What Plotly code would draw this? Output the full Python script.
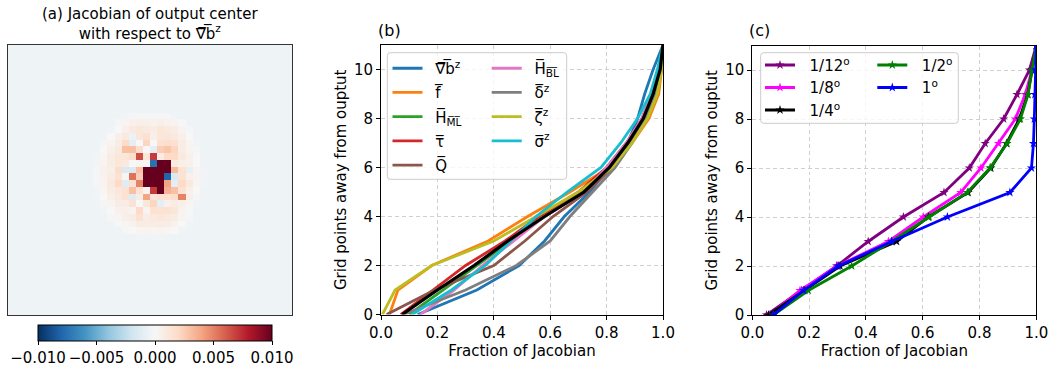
import numpy as np
import plotly.graph_objects as go

W, H = 1050, 366
FONT = "DejaVu Sans"


def px_x(p):
    return p / W


def px_y(p):
    return 1 - p / H


# ---------------- Panel (a): Jacobian field (values in units of 1e-3) ----------------
grid_n = 40
background_milli = -0.5
patch_row0 = 10
patch_col0 = 10
jacobian_patch_milli = [
    [-.5, -.5, -.5, -.5, -.5, -.5, -.3, -.2, -.2, -.2, -.2, -.2, -.2, -.3, -.5, -.5, -.5, -.5, -.5, -.5],
    [-.5, -.5, -.5, -.5, -.5, -.2, 0.2, 0.5, 0.6, 0.6, 0.4, 0.6, 0.4, 0.3, -.1, -.4, -.5, -.5, -.5, -.5],
    [-.5, -.5, -.5, -.5, -.3, 0.0, 0.5, 1.0, 1.2, 1.0, 0.8, 1.2, 1.0, 0.8, 0.3, -.2, -.5, -.5, -.5, -.5],
    [-.5, -.5, -.5, -.4, 0.0, 0.6, 1.0, -.6, 1.2, 1.6, 0.6, 1.2, 1.3, 1.0, 0.6, 0.0, -.4, -.5, -.5, -.5],
    [-.5, -.5, -.5, -.2, 0.3, 0.8, 2.0, -1.0, 0.0, 2.2, 0.0, 1.6, 1.8, 1.6, 0.8, 0.2, -.3, -.5, -.5, -.5],
    [-.5, -.5, -.4, 0.0, 0.6, 1.0, 3.0, 3.0, 1.8, 0.0, -1.0, 2.5, 2.8, 2.2, 0.8, 0.3, -.2, -.5, -.5, -.5],
    [-.5, -.5, -.3, 0.2, 0.8, 1.2, 1.2, 1.8, 6.5, 1.2, 7.0, 0.8, 2.0, 2.0, 1.0, 0.5, 0.0, -.4, -.5, -.5],
    [-.5, -.5, -.3, 0.3, 0.8, 1.2, 1.0, 0.0, 0.2, 0.2, -7.5, 12., 12., 1.0, 0.6, 0.5, 0.0, -.4, -.5, -.5],
    [-.5, -.5, -.2, 0.5, 0.6, 1.8, -1.5, -1.5, 3.0, 12., 12., 12., 12., 3.2, 1.5, -.8, 0.3, -.3, -.5, -.5],
    [-.5, -.5, -.2, 0.4, 0.8, 1.5, 0.2, 5.5, 2.5, 12., 12., 12., -8., -1.5, 1.5, 0.5, 0.3, -.3, -.5, -.5],
    [-.5, -.5, -.2, 0.3, 1.0, 2.0, -1.2, 1.5, 5.0, 12., 12., 12., 4.0, -1.0, 2.0, 1.0, 0.2, -.3, -.5, -.5],
    [-.5, -.5, -.3, 0.2, 0.8, 1.2, 1.5, 3.0, 1.5, 0.3, 7.0, 12., 3.5, 3.0, 1.5, 0.5, 0.0, -.4, -.5, -.5],
    [-.5, -.5, -.3, 0.0, 0.6, 1.0, 1.5, -1.2, 0.8, 4.0, 1.2, 1.5, 1.5, 1.8, 5.0, 0.6, -.2, -.5, -.5, -.5],
    [-.5, -.5, -.4, -.2, 0.3, 0.8, 0.8, 1.5, 0.0, 1.2, 2.2, -1.0, 0.5, 0.8, 0.6, 0.2, -.3, -.5, -.5, -.5],
    [-.5, -.5, -.5, -.3, 0.0, 0.5, 0.6, 0.3, 2.0, 0.3, 1.5, 1.5, 1.5, 1.2, 0.3, -.1, -.4, -.5, -.5, -.5],
    [-.5, -.5, -.5, -.4, -.2, 0.2, 0.6, 0.8, 1.5, 0.8, 1.0, 1.2, 1.0, 0.8, 0.3, -.2, -.5, -.5, -.5, -.5],
    [-.5, -.5, -.5, -.5, -.4, -.1, 0.2, 0.4, 0.8, 0.8, 0.8, 0.8, 0.8, 0.4, 0.0, -.3, -.5, -.5, -.5, -.5],
    [-.5, -.5, -.5, -.5, -.5, -.4, -.2, 0.0, 0.2, 0.3, 0.2, 0.3, 0.2, 0.0, -.3, -.5, -.5, -.5, -.5, -.5],
    [-.5, -.5, -.5, -.5, -.5, -.5, -.5, -.4, -.3, -.3, -.3, -.3, -.4, -.5, -.5, -.5, -.5, -.5, -.5, -.5],
    [-.5, -.5, -.5, -.5, -.5, -.5, -.5, -.5, -.5, -.5, -.5, -.5, -.5, -.5, -.5, -.5, -.5, -.5, -.5, -.5],
]
cbar_ticks = [-0.010, -0.005, 0.000, 0.005, 0.010]

# ---------------- Panel (b): fraction of Jacobian per input feature ----------------
grid_points = [0, 1, 2, 3, 4, 5, 6, 7, 8, 9, 10, 11]
feat_grad_b = [0.13, 0.34, 0.49, 0.58, 0.65, 0.74, 0.81, 0.875, 0.91, 0.935, 0.965, 1.0]
feat_f = [0.03, 0.06, 0.18, 0.38, 0.52, 0.67, 0.81, 0.89, 0.95, 0.985, 0.995, 1.0]
feat_h_ml = [0.10, 0.22, 0.34, 0.46, 0.58, 0.71, 0.81, 0.875, 0.93, 0.965, 0.99, 1.0]
feat_tau = [0.07, 0.185, 0.30, 0.44, 0.56, 0.70, 0.80, 0.87, 0.925, 0.96, 0.985, 1.0]
feat_q = [0.02, 0.19, 0.40, 0.51, 0.61, 0.73, 0.82, 0.885, 0.935, 0.97, 0.99, 1.0]
feat_h_bl = [0.14, 0.26, 0.36, 0.47, 0.58, 0.72, 0.80, 0.87, 0.925, 0.96, 0.985, 1.0]
feat_delta = [0.08, 0.30, 0.48, 0.60, 0.67, 0.75, 0.83, 0.89, 0.94, 0.97, 0.99, 1.0]
feat_zeta = [0.005, 0.05, 0.18, 0.40, 0.55, 0.70, 0.82, 0.89, 0.945, 0.98, 0.995, 1.0]
feat_sigma = [0.11, 0.25, 0.37, 0.46, 0.55, 0.66, 0.78, 0.85, 0.91, 0.955, 0.98, 1.0]
feat_all = [0.075, 0.20, 0.33, 0.45, 0.58, 0.72, 0.81, 0.875, 0.93, 0.965, 0.99, 1.0]

PAD_B = "\u00a0\u2009"
feat_labels = [
    "\u2207\u0305b\u0305<sup>z</sup>",
    "f\u0305",
    "H\u0305<sub>M\u0305L\u0305</sub>",
    "\u03c4\u0305",
    "Q\u0305",
    "H\u0305<sub>B\u0305L\u0305</sub>",
    "\u03b4\u0305<sup>z</sup>",
    "\u03b6\u0305<sup>z</sup>",
    "\u03c3\u0305<sup>z</sup>",
]
feat_values = [feat_grad_b, feat_f, feat_h_ml, feat_tau, feat_q,
               feat_h_bl, feat_delta, feat_zeta, feat_sigma]
feat_colors = ["#1f77b4", "#ff7f0e", "#2ca02c", "#d62728", "#8c564b",
               "#e377c2", "#7f7f7f", "#bcbd22", "#17becf"]

# ---------------- Panel (c): fraction of Jacobian per resolution ----------------
res_12 = [0.05, 0.174, 0.297, 0.408, 0.532, 0.675, 0.764, 0.82, 0.885, 0.932, 0.976, 1.0]
res_8 = [0.06, 0.168, 0.30, 0.479, 0.602, 0.734, 0.805, 0.867, 0.926, 0.961, 0.985, 1.0]
res_4 = [0.057, 0.185, 0.309, 0.508, 0.62, 0.76, 0.84, 0.895, 0.94, 0.97, 0.985, 1.0]
res_2 = [0.074, 0.197, 0.35, 0.49, 0.623, 0.757, 0.837, 0.897, 0.944, 0.971, 0.985, 1.0]
res_1 = [0.074, 0.18, 0.303, 0.491, 0.687, 0.907, 0.983, 0.99, 0.993, 0.995, 0.997, 1.0]
PAD_C = "\u00a0\u00a0"
res_labels = ["1/12<sup>o</sup>", "1/8<sup>o</sup>", "1/4<sup>o</sup>",
              "1/2<sup>o</sup>", "1<sup>o</sup>"]
res_values = [res_12, res_8, res_4, res_2, res_1]
res_colors = ["#800080", "#ff00ff", "#000000", "#008000", "#0000ff"]

x_ticks = [0.0, 0.2, 0.4, 0.6, 0.8, 1.0]
y_ticks = [0, 2, 4, 6, 8, 10]

# ---------------- Build figure ----------------
z = np.full((grid_n, grid_n), background_milli, dtype=float)
patch = np.array(jacobian_patch_milli)
z[patch_row0:patch_row0 + patch.shape[0], patch_col0:patch_col0 + patch.shape[1]] = patch
z = z * 1e-3

rdbu_r = [
    [0.0, "#053061"], [0.1, "#2166ac"], [0.2, "#4393c3"], [0.3, "#92c5de"],
    [0.4, "#d1e5f0"], [0.5, "#f7f7f7"], [0.6, "#fddbc7"], [0.7, "#f4a582"],
    [0.8, "#d6604d"], [0.9, "#b2182b"], [1.0, "#67001f"],
]

fig = go.Figure()

fig.add_trace(go.Heatmap(
    z=z, x=list(range(grid_n)), y=list(range(grid_n)),
    colorscale=rdbu_r, zmin=-0.01, zmax=0.01,
    xaxis="x", yaxis="y", showlegend=False,
    colorbar=dict(
        orientation="h", x=px_x(155), xanchor="center",
        y=px_y(325), yanchor="top",
        len=234, lenmode="pixels", thickness=16, thicknessmode="pixels",
        xpad=0, ypad=0, outlinewidth=1, outlinecolor="black",
        tickvals=cbar_ticks, tickformat=".3f", ticks="outside",
        ticklen=4, tickcolor="black", tickfont=dict(size=15, family=FONT, color="black"),
    ),
))

for i, (lab, vals, col) in enumerate(zip(feat_labels, feat_values, feat_colors)):
    fig.add_trace(go.Scatter(
        x=vals, y=grid_points, mode="lines", name=PAD_B + lab,
        line=dict(color=col, width=2.8),
        xaxis="x2", yaxis="y2",
        legend="legend" if i < 5 else "legend2",
        legendgroup="g%d" % i,
    ))
fig.add_trace(go.Scatter(
    x=feat_all, y=grid_points, mode="lines", name="all",
    line=dict(color="black", width=3.2), xaxis="x2", yaxis="y2", showlegend=False,
))

for i, (lab, vals, col) in enumerate(zip(res_labels, res_values, res_colors)):
    fig.add_trace(go.Scatter(
        x=vals, y=grid_points, mode="lines+markers", name=PAD_C + lab,
        line=dict(color=col, width=2.8),
        marker=dict(symbol="star", size=7, color=col),
        xaxis="x3", yaxis="y3",
        legend="legend3" if i < 3 else "legend4",
    ))

axis_common = dict(
    showline=True, linecolor="black", linewidth=1, mirror=True,
    ticks="outside", ticklen=4, tickwidth=1, tickcolor="black",
    showgrid=True, gridcolor="#d0d0d0", griddash="4px,3px", gridwidth=1,
    zeroline=False, tickfont=dict(size=15, family=FONT, color="black"),
)

x_common = dict(axis_common, range=[0, 1], tickvals=x_ticks, tickformat=".1f",
                title=dict(text="Fraction of Jacobian", font=dict(size=15, family=FONT), standoff=2))
y_common = dict(axis_common, range=[0, 11], tickvals=y_ticks,
                title=dict(text="Grid points away from ouptut", font=dict(size=15, family=FONT), standoff=3))

legend_common = dict(
    bgcolor="rgba(0,0,0,0)", borderwidth=0, xanchor="left", yanchor="top",
    font=dict(size=15, family=FONT, color="black"),
)


def rounded_box(x0, y0, x1, y1, r=3):
    rx, ry = r / W, r / H
    a, b, c, d = px_x(x0), px_x(x1), px_y(y0), px_y(y1)
    return (f"M{a+rx},{c} L{b-rx},{c} Q{b},{c} {b},{c-ry} L{b},{d+ry} Q{b},{d} {b-rx},{d} "
            f"L{a+rx},{d} Q{a},{d} {a},{d+ry} L{a},{c-ry} Q{a},{c} {a+rx},{c} Z")


fig.update_layout(
    width=W, height=H, autosize=False,
    margin=dict(l=0, r=0, t=0, b=0, autoexpand=False),
    paper_bgcolor="white", plot_bgcolor="white",
    font=dict(family=FONT, size=15, color="black"),
    xaxis=dict(domain=[px_x(8), px_x(292)], range=[-0.5, grid_n - 0.5],
               showline=True, linecolor="#333333", linewidth=1, mirror=True,
               showticklabels=False, ticks="", showgrid=False, zeroline=False),
    yaxis=dict(domain=[px_y(315), px_y(45)], range=[grid_n - 0.5, -0.5],
               showline=True, linecolor="#333333", linewidth=1, mirror=True,
               showticklabels=False, ticks="", showgrid=False, zeroline=False, anchor="x"),
    xaxis2=dict(x_common, domain=[px_x(381), px_x(663)], anchor="y2"),
    yaxis2=dict(y_common, domain=[px_y(314.5), px_y(45)], anchor="x2"),
    xaxis3=dict(x_common, domain=[px_x(752.3), px_x(1036.3)], anchor="y3"),
    yaxis3=dict(y_common, domain=[px_y(315), px_y(45.5)], anchor="x3"),
    legend=dict(legend_common, x=px_x(387.5), y=px_y(52), tracegroupgap=1.7),
    legend2=dict(legend_common, x=px_x(486.7), y=px_y(52), tracegroupgap=1.7),
    legend3=dict(legend_common, x=px_x(760), y=px_y(48.75)),
    legend4=dict(legend_common, x=px_x(872.3), y=px_y(48.75)),
    shapes=[
        dict(type="path", xref="paper", yref="paper", path=rounded_box(387.3, 52.7, 566.7, 179.3),
             fillcolor="rgba(255,255,255,0.8)", line=dict(color="#cccccc", width=1), layer="above"),
        dict(type="path", xref="paper", yref="paper", path=rounded_box(760.7, 52.7, 958.3, 123.3),
             fillcolor="rgba(255,255,255,0.8)", line=dict(color="#cccccc", width=1), layer="above"),
    ],
    annotations=[
        dict(text="(a) Jacobian of output center<br>with respect to \u2207\u0305b\u0305<sup>z</sup>",
             x=px_x(150), y=px_y(24), xref="paper", yref="paper", xanchor="center", yanchor="middle",
             showarrow=False, font=dict(size=15, family=FONT, color="black")),
        dict(text="(b)", x=px_x(376), y=px_y(31), xref="paper", yref="paper",
             xanchor="left", yanchor="middle", showarrow=False,
             font=dict(size=16, family=FONT, color="black")),
        dict(text="(c)", x=px_x(747), y=px_y(31), xref="paper", yref="paper",
             xanchor="left", yanchor="middle", showarrow=False,
             font=dict(size=16, family=FONT, color="black")),
    ],
)

fig.write_html("out.html")
